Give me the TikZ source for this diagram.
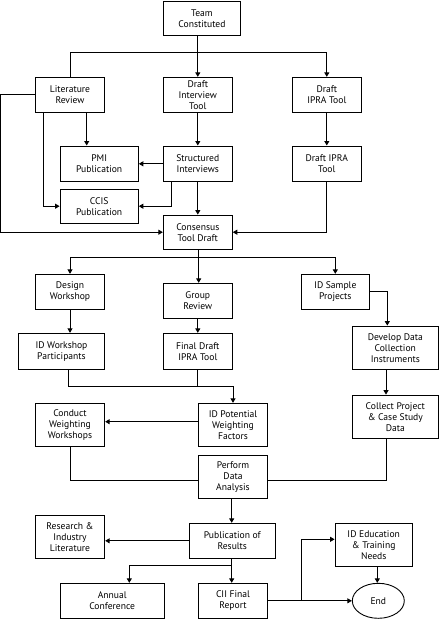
\documentclass[tikz,border=0pt]{standalone}
\usepackage{fontspec}
\setmainfont{PT Sans}
\usetikzlibrary{arrows.meta,calc,shapes.geometric}
\tikzset{
  box/.style={draw,line width=0.9pt,align=center,inner sep=0pt,font=\fontsize{9.6}{11}\selectfont},
  ln/.style={line width=0.9pt},
  arr/.style={line width=0.9pt,-{Triangle[length=4.5pt,width=5pt]}}
}
\begin{document}
\begin{tikzpicture}[x=1pt,y=-1pt]
\useasboundingbox (0,0) rectangle (439,619);
% nodes
\node[box,minimum width=77.4pt,minimum height=34.3pt] (team) at (202,18.2) {Team\\Constituted};
\node[box,minimum width=69.4pt,minimum height=35pt] (lit) at (70,94.8) {Literature\\Review};
\node[box,minimum width=69pt,minimum height=35pt] (dit) at (197.8,94.8) {Draft\\Interview\\Tool};
\node[box,minimum width=69pt,minimum height=35pt] (dipra) at (326.8,94.8) {Draft\\IPRA Tool};
\node[box,minimum width=78.3pt,minimum height=35.7pt] (pmi) at (99.2,163.8) {PMI\\Publication};
\node[box,minimum width=69pt,minimum height=35.7pt] (si) at (197.8,163.8) {Structured\\Interviews};
\node[box,minimum width=69pt,minimum height=35.7pt] (dipra2) at (326.8,163.8) {Draft IPRA\\Tool};
\node[box,minimum width=78.3pt,minimum height=34.3pt] (ccis) at (99.2,206.2) {CCIS\\Publication};
\node[box,minimum width=69pt,minimum height=34.3pt] (ctd) at (197.8,232.2) {Consensus\\Tool Draft};
\node[box,minimum width=69.4pt,minimum height=35pt] (dw) at (70,291.8) {Design\\Workshop};
\node[box,minimum width=69pt,minimum height=35pt] (gr) at (197.8,300.8) {Group\\Review};
\node[box,minimum width=68pt,minimum height=35pt] (idsp) at (335.3,291.8) {ID Sample\\Projects};
\node[box,minimum width=86.4pt,minimum height=36pt] (idwp) at (61.5,351.3) {ID Workshop\\Participants};
\node[box,minimum width=69pt,minimum height=36pt] (fdit) at (197.8,351.3) {Final Draft\\IPRA Tool};
\node[box,minimum width=86pt,minimum height=43.3pt] (ddci) at (395.3,347.7) {Develop Data\\Collection\\Instruments};
\node[box,minimum width=86pt,minimum height=43.3pt] (cpcs) at (395.3,416.7) {Collect Project\\\& Case Study\\Data};
\node[box,minimum width=69.4pt,minimum height=43.4pt] (cww) at (70,425) {Conduct\\Weighting\\Workshops};
\node[box,minimum width=68.6pt,minimum height=43.4pt] (idpw) at (233,425) {ID Potential\\Weighting\\Factors};
\node[box,minimum width=68.6pt,minimum height=43.3pt] (pda) at (233,476.7) {Perform\\Data\\Analysis};
\node[box,minimum width=69.4pt,minimum height=42.6pt] (ril) at (70,537) {Research \&\\Industry\\Literature};
\node[box,minimum width=86pt,minimum height=35pt] (por) at (232.3,540.8) {Publication of\\Results};
\node[box,minimum width=104.3pt,minimum height=35pt] (ac) at (112.2,600.8) {Annual\\Conference};
\node[box,minimum width=68.6pt,minimum height=35pt] (cii) at (233,600.8) {CII Final\\Report};
\node[box,minimum width=77.3pt,minimum height=43.4pt] (ided) at (373.7,545) {ID Education\\\& Training\\Needs};
\node[box,ellipse,minimum width=52pt,minimum height=35pt] (end) at (378.3,600.8) {End};
% junctions
\coordinate (j1) at (197.8,52.3);
\coordinate (l1) at (0.8,94.8);
\coordinate (j2) at (198.7,257.3);
\coordinate (j4) at (68.3,386);
\coordinate (j3) at (231.7,565.7);
\coordinate (b1) at (301.3,600.8);
% connectors
\draw[arr] (team.south -| dit) -- (dit.north);
\draw[ln] (lit.north) |- (j1);
\draw[arr] (j1) -| (dipra.north);
\draw[arr] ([xshift=16.7pt]lit.south) -- ([xshift=16.7pt]lit.south |- pmi.north);
\draw[arr] ([xshift=-26.7pt]lit.south) |- (ccis.west);
\draw[arr] (lit.west) -- (l1) |- (ctd.west);
\draw[arr] (dit.south) -- (si.north);
\draw[arr] (si.west) -- (pmi.east);
\draw[arr] ([xshift=-26.1pt]si.south) |- (ccis.east);
\draw[arr] (si.south) -- (ctd.north);
\draw[arr] (dipra.south) -- (dipra2.north);
\draw[arr] (dipra2.south) |- (ctd.east);
\draw[ln] (ctd.south -| j2) -- (j2);
\draw[arr] (j2) -- (j2 |- gr.north);
\draw[arr] (j2) -| (dw.north);
\draw[arr] (j2) -| (idsp.north);
\draw[arr] (dw.south) -- (dw.south |- idwp.north);
\draw[arr] (gr.south) -- (fdit.north);
\draw[arr] (idsp.east) -| ([xshift=-8pt]ddci.north);
\draw[arr] ([xshift=-9.3pt]ddci.south) -- ([xshift=-9.3pt]ddci.south |- cpcs.north);
\draw[ln] (j4 |- idwp.south) -- (j4);
\draw[ln] (fdit.south) -- (fdit.south |- j4);
\draw[arr] (j4) -| (idpw.north);
\draw[arr] ([yshift=3.3pt]idpw.west) -- ([yshift=3.3pt]idpw.west -| cww.east);
\draw[ln] (cww.south) |- ([yshift=-3.3pt]pda.west);
\draw[ln] ([xshift=-8.6pt]cpcs.south) |- ([yshift=-3.3pt]pda.east);
\draw[arr] (pda.south -| j3) -- (j3 |- por.north);
\draw[arr] (por.west) -- (por.west -| ril.east);
\draw[ln] (por.south -| j3) -- (j3);
\draw[arr] (j3) -| ([xshift=17.1pt]ac.north);
\draw[arr] (j3) -- (j3 |- cii.north);
\draw[arr] (cii.east) -- (end.west);
\draw[arr] (b1) |- ([yshift=5.7pt]ided.west);
\draw[arr] ([xshift=3.6pt]ided.south) -- ([xshift=3.6pt]ided.south |- end.north);
\end{tikzpicture}
\end{document}
